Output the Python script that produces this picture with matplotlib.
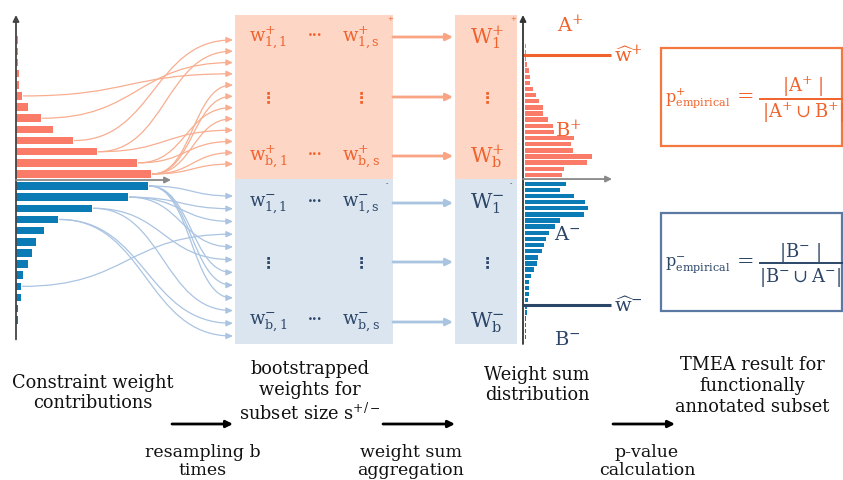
import numpy as np
import matplotlib
matplotlib.use("Agg")
import matplotlib.pyplot as plt
from matplotlib.patches import Rectangle, FancyArrowPatch
from matplotlib.path import Path

plt.rcParams["font.family"] = ["DejaVu Serif", "DejaVu Sans", "Noto Sans CJK SC"]
plt.rcParams["mathtext.fontset"] = "dejavuserif"
plt.rcParams["mathtext.default"] = "regular"

# ---- data -------------------------------------------------------------
# constraint weight contributions, bars counted outward from the x axis
contrib_pos = [135, 121, 81, 57, 37, 25, 12, 6, 3, 3, 1.5, 1.5, 1.5]
contrib_neg = [132, 112, 76, 42, 28, 20, 16, 12, 7, 5, 4.5, 2, 1.5]

# bootstrap draws: (contribution bar index, resampled row)
links_pos = [(7, 3), (5, 2), (3, 0), (2, 1), (2, 8), (1, 9), (1, 6),
             (0, 4), (0, 5), (0, 7), (0, 10), (0, 11)]
links_neg = [(0, 0), (0, 6), (0, 7), (0, 8), (1, 1), (1, 2), (1, 4),
             (2, 5), (2, 9), (3, 10), (3, 11), (9, 3)]

# weight sum distribution, bins counted outward from the x axis
wsum_pos = [37, 39, 62, 67, 48, 46, 49, 29, 28, 23, 18, 18, 14, 11, 8, 5,
            5, 4, 2, 1, 1, 1]
wsum_neg = [41, 35, 49, 60, 63, 59, 35, 30, 24, 21, 19, 17, 13, 12, 9, 6,
            4, 4, 4, 3, 2, 2, 1, 1, 1, 1]
w_hat_pos = 20.2
w_hat_neg = -20.5

stage_labels = ["Constraint weight\ncontributions",
                "bootstrapped\nweights for\nsubset size s$^{+/-}$",
                "Weight sum\ndistribution",
                "TMEA result for\nfunctionally\nannotated subset"]
step_labels = ["resampling b\ntimes", "weight sum\naggregation",
               "p-value\ncalculation"]

# ---- style ------------------------------------------------------------
RED_BAR = "#fa7b68"
BLUE_BAR = "#0b7bb6"
RED_FILL = "#fdd6c6"
BLUE_FILL = "#dbe5f0"
RED_TXT = "#f0622c"
BLUE_TXT = "#2c4668"
RED_LINK = "#f8ae90"
BLUE_LINK = "#aac4e2"
VDOTS = ["DejaVu Sans", "Noto Sans CJK SC"]

W, H = 843, 481
fig = plt.figure(figsize=(W / 100, H / 100), dpi=100)
ax = fig.add_axes([0, 0, 1, 1])
ax.set_xlim(0, W)
ax.set_ylim(H, 0)
ax.axis("off")


def px_axes(x0, y0, x1, y1):
    a = fig.add_axes([x0 / W, 1 - y1 / H, (x1 - x0) / W, (y1 - y0) / H])
    a.axis("off")
    a.patch.set_alpha(0)
    return a


def to_main(a, x, y):
    return ax.transData.inverted().transform(a.transData.transform((x, y)))


# ---- left histogram: constraint weight contributions ---------------------
axl = px_axes(16, 16, 236, 345)
axl.set_xlim(0, 220)
axl.set_ylim(-14.71, 14.80)
idx_pos = np.arange(len(contrib_pos)) + 0.54
idx_neg = -(np.arange(len(contrib_neg)) + 0.54)
axl.barh(idx_pos, contrib_pos, height=0.68, color=RED_BAR, clip_on=False)
axl.barh(idx_neg, contrib_neg, height=0.68, color=BLUE_BAR, clip_on=False)
axl.annotate("", xy=(0, 14.8), xytext=(0, -14.3), annotation_clip=False,
             arrowprops=dict(arrowstyle="-|>", color="#444444", lw=1.3,
                             mutation_scale=9, shrinkA=0, shrinkB=0))
axl.annotate("", xy=(155, 0), xytext=(0, 0), annotation_clip=False,
             arrowprops=dict(arrowstyle="-|>", color="#888888", lw=1.3,
                             mutation_scale=9, shrinkA=0, shrinkB=0))

# ---- bootstrap matrices ---------------------------------------------------
bx0, bx1 = 235, 393
ax.add_patch(Rectangle((bx0, 16), bx1 - bx0, 164, color=RED_FILL, lw=0))
ax.add_patch(Rectangle((bx0, 180), bx1 - bx0, 165, color=BLUE_FILL, lw=0))

rows_pos = np.linspace(41, 165, 12)
rows_neg = np.linspace(197, 337, 12)


def link(a, bars, ypos, links, rows, color):
    for b, r in links:
        x0, y0 = to_main(a, bars[b] + 1.5, ypos[b])
        x1, y1 = 233, rows[r]
        k = 0.5 * (x1 - x0)
        verts = [(x0, y0), (x0 + k, y0), (x1 - k, y1), (x1, y1)]
        codes = [Path.MOVETO, Path.CURVE4, Path.CURVE4, Path.CURVE4]
        ax.add_patch(FancyArrowPatch(path=Path(verts, codes),
                                     arrowstyle="-|>,head_length=4,head_width=1.8",
                                     color=color, lw=0.9, mutation_scale=1))


link(axl, contrib_pos, idx_pos, links_pos, rows_pos, RED_LINK)
link(axl, contrib_neg, idx_neg, links_neg, rows_neg, BLUE_LINK)

fs_cell = 13
for (y1, y2, y3, sgn, col) in [(38, 98, 157, "+", RED_TXT),
                               (204, 263, 322, "-", BLUE_TXT)]:
    ax.text(268, y1, rf"$w^{{{sgn}}}_{{1,1}}$", color=col, fontsize=fs_cell,
            ha="center", va="center")
    ax.text(361, y1, rf"$w^{{{sgn}}}_{{1,s}}$", color=col, fontsize=fs_cell,
            ha="center", va="center")
    ax.text(268, y3, rf"$w^{{{sgn}}}_{{b,1}}$", color=col, fontsize=fs_cell,
            ha="center", va="center")
    ax.text(361, y3, rf"$w^{{{sgn}}}_{{b,s}}$", color=col, fontsize=fs_cell,
            ha="center", va="center")
    for yy in (y1, y3):
        ax.text(315, yy - 2, "\u00b7\u00b7\u00b7", color=col, fontsize=10,
                ha="center", va="center", fontweight="bold")
    for xx in (268, 361):
        ax.text(xx, y2, "\u22ee", color=col, fontsize=11, ha="center",
                va="center", fontweight="bold", family=VDOTS)
ax.text(390, 19, "+", color=RED_TXT, fontsize=5, ha="center", va="center")
ax.text(387, 184, "-", color=BLUE_TXT, fontsize=5, ha="center", va="center")

# arrows into the weight sums
for yy in (38, 98, 157):
    ax.annotate("", xy=(453, yy), xytext=(393, yy),
                arrowprops=dict(arrowstyle="-|>", color="#f9a584", lw=2,
                                mutation_scale=10, shrinkA=0, shrinkB=0))
for yy in (204, 263, 323):
    ax.annotate("", xy=(453, yy), xytext=(393, yy),
                arrowprops=dict(arrowstyle="-|>", color="#a8c4e0", lw=2,
                                mutation_scale=10, shrinkA=0, shrinkB=0))

# ---- weight sum columns ---------------------------------------------------
sx0, sx1 = 455, 517
ax.add_patch(Rectangle((sx0, 16), sx1 - sx0, 164, color=RED_FILL, lw=0))
ax.add_patch(Rectangle((sx0, 180), sx1 - sx0, 165, color=BLUE_FILL, lw=0))
fs_W = 15
ax.text(487, 38, r"$W^{+}_{1}$", color=RED_TXT, fontsize=fs_W, ha="center", va="center")
ax.text(487, 98, "\u22ee", color=RED_TXT, fontsize=11, ha="center", va="center",
        fontweight="bold", family=VDOTS)
ax.text(487, 157, r"$W^{+}_{b}$", color=RED_TXT, fontsize=fs_W, ha="center", va="center")
ax.text(487, 204, r"$W^{-}_{1}$", color=BLUE_TXT, fontsize=fs_W, ha="center", va="center")
ax.text(487, 263, "\u22ee", color=BLUE_TXT, fontsize=11, ha="center", va="center",
        fontweight="bold", family=VDOTS)
ax.text(487, 323, r"$W^{-}_{b}$", color=BLUE_TXT, fontsize=fs_W, ha="center", va="center")
ax.text(513, 19, "+", color=RED_TXT, fontsize=5, ha="center", va="center")
ax.text(511, 184, "-", color=BLUE_TXT, fontsize=5, ha="center", va="center")

# ---- right histogram: weight sum distribution ----------------------------
axr = px_axes(523, 16, 640, 345)
axr.set_xlim(0, 117)
axr.set_ylim(-26.9, 26.75)
ridx_pos = np.arange(len(wsum_pos)) + 0.68
ridx_neg = -(np.arange(len(wsum_neg)) + 0.77)
axr.barh(ridx_pos, wsum_pos, height=0.72, left=1.5, color=RED_BAR, clip_on=False)
axr.barh(ridx_neg, wsum_neg, height=0.72, left=1.5, color=BLUE_BAR, clip_on=False)
axr.annotate("", xy=(0, 26.75), xytext=(0, -26.9), annotation_clip=False,
             arrowprops=dict(arrowstyle="-|>", color="#333333", lw=1.3,
                             mutation_scale=9, shrinkA=0, shrinkB=0))
axr.annotate("", xy=(89, 0), xytext=(0, 0), annotation_clip=False,
             arrowprops=dict(arrowstyle="-|>", color="#888888", lw=1.3,
                             mutation_scale=9, shrinkA=0, shrinkB=0))
axr.plot([0, 88], [w_hat_pos, w_hat_pos], color=RED_TXT, lw=2.2,
         solid_capstyle="butt", clip_on=False)
axr.plot([0, 88], [w_hat_neg, w_hat_neg], color=BLUE_TXT, lw=2.2,
         solid_capstyle="butt", clip_on=False)
axr.text(91, w_hat_pos, r"$\widehat{w}^{+}$", color=RED_TXT, fontsize=14,
         ha="left", va="center")
axr.text(91, w_hat_neg, r"$\widehat{w}^{-}$", color=BLUE_TXT, fontsize=14,
         ha="left", va="center")

ax.text(570, 25, r"$A^{+}$", color=RED_TXT, fontsize=14, ha="center", va="center")
ax.text(568, 130, r"$B^{+}$", color=RED_TXT, fontsize=14, ha="center", va="center")
ax.text(567, 235, r"$A^{-}$", color=BLUE_TXT, fontsize=14, ha="center", va="center")
ax.text(567, 340, r"$B^{-}$", color=BLUE_TXT, fontsize=14, ha="center", va="center")

# ---- empirical p-value boxes ---------------------------------------------
ax.add_patch(Rectangle((661, 49), 181, 98, fill=False, ec="#f4773f", lw=1.6))
ax.add_patch(Rectangle((661, 214), 181, 98, fill=False, ec="#5b79a3", lw=1.6))
fs_f = 13
ax.text(665, 98, r"$p^{+}_{empirical}$", color=RED_TXT, fontsize=11.5,
        ha="left", va="center")
ax.text(746, 96, "=", color=RED_TXT, fontsize=fs_f + 2, ha="center", va="center")
ax.text(803, 87, r"$|A^{+}\ |$", color=RED_TXT, fontsize=fs_f, ha="center", va="center")
ax.plot([760, 843], [100, 100], color=RED_TXT, lw=1.4)
ax.text(803, 113, r"$|A^{+}\cup B^{+}|$", color=RED_TXT, fontsize=fs_f,
        ha="center", va="center")
ax.text(665, 265, r"$p^{-}_{empirical}$", color=BLUE_TXT, fontsize=11.5,
        ha="left", va="center")
ax.text(746, 262, "=", color=BLUE_TXT, fontsize=fs_f + 2, ha="center", va="center")
ax.text(800, 252, r"$|B^{-}\ |$", color=BLUE_TXT, fontsize=fs_f, ha="center", va="center")
ax.plot([760, 843], [264, 264], color=BLUE_TXT, lw=1.4)
ax.text(800, 278, r"$|B^{-}\cup A^{-}|$", color=BLUE_TXT, fontsize=fs_f,
        ha="center", va="center")

# ---- stage and step captions ----------------------------------------------
fs_cap = 12.8
for (x, y), txt in zip([(93, 393), (310, 392), (537, 385), (752, 386)], stage_labels):
    ax.text(x, y, txt, fontsize=fs_cap, ha="center", va="center",
            linespacing=1.2, color="#111111")
for (x0, x1, xt), txt in zip([(172, 233, 203), (383, 455, 411), (613, 675, 647)],
                             step_labels):
    ax.annotate("", xy=(x1, 425), xytext=(x0, 425),
                arrowprops=dict(arrowstyle="-|>", color="black", lw=2,
                                mutation_scale=10, shrinkA=0, shrinkB=0))
    ax.text(xt, 479, txt, fontsize=12.5, ha="center", va="bottom",
            linespacing=1.05, color="#111111")

fig.savefig("out.png", dpi=100)
